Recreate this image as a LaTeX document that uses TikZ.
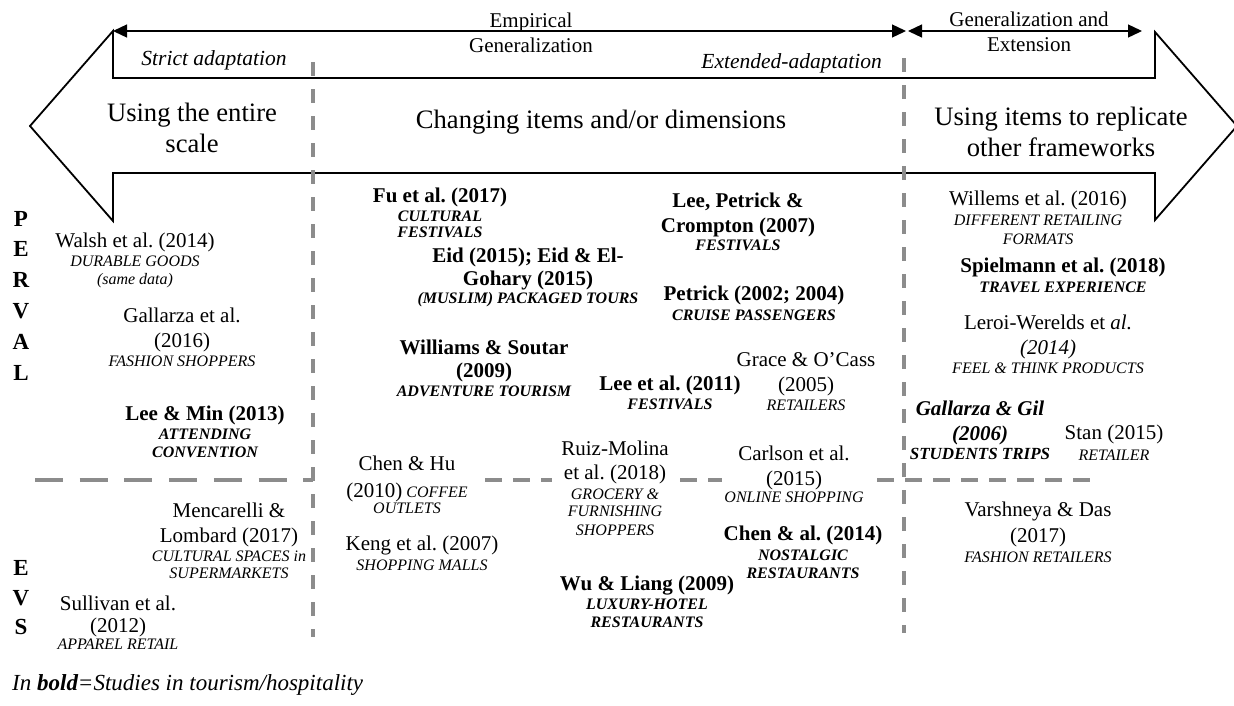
\documentclass[tikz,border=0pt]{standalone}
\usepackage{fontspec}
\setmainfont{Liberation Serif}
\usetikzlibrary{arrows.meta}
\frenchspacing
\definecolor{dgray}{RGB}{140,140,140}
\newcommand\au[1]{{\fontsize{21}{25}\selectfont#1}}
\newcommand\aub[1]{{\fontsize{21}{25}\selectfont\bfseries#1}}
\newcommand\subt[1]{{\itshape#1}}
\newcommand\subb[1]{{\bfseries\itshape#1}}
\newcommand\nolsl{\lineskiplimit-100pt\relax}
\newcommand\entfont{\fontsize{16}{18}\selectfont\nolsl}
\newcommand\bigfont{\fontsize{26.6}{31}\selectfont\nolsl}
\newcommand\labfont{\fontsize{21}{25}\selectfont\nolsl}
\newcommand\letfont{\fontsize{23}{30.8}\selectfont\bfseries\nolsl}
\newcommand\letfontb{\fontsize{23}{29.5}\selectfont\bfseries\nolsl}
\begin{document}
\begin{tikzpicture}[x=1pt,y=-1pt,
  entry/.style={align=center,inner sep=0pt,anchor=north,font=\entfont},
  big/.style={align=center,inner sep=0pt,font=\bigfont},
  lab/.style={align=center,inner sep=0pt,font=\labfont},
  adapt/.style={inner sep=0pt,font=\fontsize{21.5}{25}\selectfont\itshape},
  letters/.style={align=center,inner sep=0pt,anchor=north,font=\letfont},
  vdash/.style={draw=dgray,line width=3.5pt,dash pattern=on 14pt off 13pt},
  hdash/.style={draw=dgray,line width=4.5pt,dash pattern=on 17pt off 11pt},
  hdashlong/.style={draw=dgray,line width=4.5pt,dash pattern=on 28pt off 16.7pt},
  blockarrow/.style={draw=black,line width=1.8pt,line join=miter},
  toparrow/.style={draw=black,line width=1.3pt,{Triangle[length=14pt,width=13pt]}-{Triangle[length=14pt,width=13pt]}}
]
\useasboundingbox (0,0) rectangle (1234,705);

% big double block arrow
\draw[blockarrow] (30,126) -- (113,31) -- (113,78) -- (1155,78) -- (1155,32) -- (1237,126)
  -- (1155,220) -- (1155,173) -- (113,173) -- (113,221) -- cycle;

% top thin arrows
\coordinate (tl) at (113,31);
\coordinate (tm1) at (906,31);
\coordinate (tm2) at (908,31);
\coordinate (tr) at (1142,31);
\draw[toparrow] (tl) -- (tm1);
\draw[toparrow] (tm2) -- (tr);

% dashed separators
\coordinate (vl1) at (313,62);  \coordinate (vl2) at (313,637);
\coordinate (vr1) at (904,58);  \coordinate (vr2) at (904,633);
\draw[vdash] (vl1) -- (vl2);
\draw[vdash] (vr1) -- (vr2);
\coordinate (h1a) at (35,480);  \coordinate (h1b) at (313,480);
\coordinate (h2a) at (485,480); \coordinate (h2b) at (552,480);
\coordinate (h3a) at (680,480); \coordinate (h3b) at (722,480);
\coordinate (h4a) at (877,480); \coordinate (h4b) at (1090,480);
\draw[hdashlong] (h1a) -- (h1b);
\draw[hdash] (h2a) -- (h2b);
\draw[hdash] (h3a) -- (h3b);
\draw[hdash] (h4a) -- (h4b);

% top labels
\node[lab,anchor=north] (emp) at (531,12.5) {Empirical\\Generalization};
\node[lab,anchor=north] (genext) at (1029,11.5) {Generalization and\\Extension};
\node[adapt,anchor=base] (strict) at (214,65) {Strict adaptation};
\node[adapt,anchor=base east] (ext) at (882,68) {Extended-adaptation};

% big texts in arrow
\node[big,anchor=north] (using) at (192,102.5) {Using the entire\\scale};
\node[big,anchor=base] (changing) at (601,128) {Changing items and/or dimensions};
\node[big,anchor=north] (replicate) at (1061,106.5) {Using items to replicate\\other frameworks};

% side letters
\node[letters] (perval) at (21,210.8) {P\\E\\R\\V\\A\\L};
\node[letters,font=\letfontb] (evs) at (21,560.4) {E\\V\\S};

% left column
\node[entry] (walsh) at (135,232.4) {\au{Walsh et al. (2014)}\\[1.5pt]\subt{DURABLE GOODS}\\\subt{(same data)}};
\node[entry] (gallarza16) at (182,307.4) {\au{Gallarza et al.}\\[7pt]\au{(2016)}\\[1.5pt]\subt{FASHION SHOPPERS}};
\node[entry] (leemin) at (205,405.4) {\aub{Lee \& Min (2013)}\\[1.5pt]\subb{ATTENDING}\\\subb{CONVENTION}};
\node[entry] (mencarelli) at (229,502.4) {\au{Mencarelli \&}\\[7pt]\au{Lombard (2017)}\\[1.5pt]\subt{CULTURAL SPACES in}\\[-1pt]\subt{SUPERMARKETS}};
\node[entry] (sullivan) at (118,595.4) {\au{Sullivan et al.}\\[4pt]\au{(2012)}\\[-1pt]\subt{APPAREL RETAIL}};

% middle column, PERVAL
\node[entry] (fu) at (440,187.4) {\aub{Fu et al. (2017)}\\[1.5pt]\subb{CULTURAL}\\[-2pt]\subb{FESTIVALS}};
\node[entry] (eid) at (528,247.4) {\aub{Eid (2015); Eid \& El-}\\[5pt]\aub{Gohary (2015)}\\[0pt]\subb{(MUSLIM) PACKAGED TOURS}};
\node[entry] (williams) at (484,339.4) {\aub{Williams \& Soutar}\\[5pt]\aub{(2009)}\\[1.5pt]\subb{ADVENTURE TOURISM}};
\node[entry] (leeetal) at (670,375.4) {\aub{Lee et al. (2011)}\\[1pt]\subb{FESTIVALS}};
\node[entry] (leepetrick) at (738,192.4) {\aub{Lee, Petrick \&}\\[7pt]\aub{Crompton (2007)}\\[0pt]\subb{FESTIVALS}};
\node[entry] (petrick) at (754,285.4) {\aub{Petrick (2002; 2004)}\\[2pt]\subb{CRUISE PASSENGERS}};
\node[entry] (grace) at (806,352.4) {\au{Grace \& O’Cass}\\[7pt]\au{(2005)}\\[1pt]\subt{RETAILERS}};

% middle column, EVS
\node[entry] (chenhu) at (407,455.4) {\au{Chen \& Hu}\\[9pt]\au{(2010)} \subt{COFFEE}\\[-2pt]\subt{OUTLETS}};
\node[entry] (keng) at (422,535.4) {\au{Keng et al. (2007)}\\[2pt]\subt{SHOPPING MALLS}};
\node[entry] (ruiz) at (615,440.4) {\au{Ruiz-Molina}\\[6pt]\au{et al. (2018)}\\[2pt]\subt{GROCERY \&}\\[-1pt]\subt{FURNISHING}\\[1pt]\subt{SHOPPERS}};
\node[entry] (carlson) at (794,445.4) {\au{Carlson et al.}\\[7pt]\au{(2015)}\\[-1pt]\subt{ONLINE SHOPPING}};
\node[entry] (chenal) at (803,525.4) {\aub{Chen \& al. (2014)}\\[2pt]\subb{NOSTALGIC}\\\subb{RESTAURANTS}};
\node[entry] (wu) at (647,575.4) {\aub{Wu \& Liang (2009)}\\[1pt]\subb{LUXURY-HOTEL}\\\subb{RESTAURANTS}};

% right column
\node[entry] (willems) at (1038,190.4) {\au{Willems et al. (2016)}\\[2pt]\subt{DIFFERENT RETAILING}\\[1pt]\subt{FORMATS}};
\node[entry] (spielmann) at (1063,257.4) {\aub{Spielmann et al. (2018)}\\[2pt]\subb{TRAVEL EXPERIENCE}};
\node[entry] (leroi) at (1048,314.4) {\au{Leroi-Werelds et \textit{al.}}\\[7pt]\au{\textit{(2014)}}\\[1pt]\subt{FEEL \& THINK PRODUCTS}};
\node[entry] (gallarzagil) at (980,400.4) {\aub{\itshape Gallarza \& Gil}\\[7pt]\aub{\itshape (2006)}\\[1pt]{\fontsize{17}{18}\selectfont\subb{STUDENTS TRIPS}}};
\node[entry] (stan) at (1114,424.4) {\au{Stan (2015)}\\[3pt]\subt{RETAILER}};
\node[entry] (varshneya) at (1038,501.4) {\au{Varshneya \& Das}\\[8pt]\au{(2017)}\\[2pt]\subt{FASHION RETAILERS}};

% footer
\node[inner sep=0pt,anchor=base west,font=\fontsize{23}{27}\selectfont\itshape] (footer) at (12,690) {In \textbf{bold}=Studies in tourism/hospitality};
\end{tikzpicture}
\end{document}
